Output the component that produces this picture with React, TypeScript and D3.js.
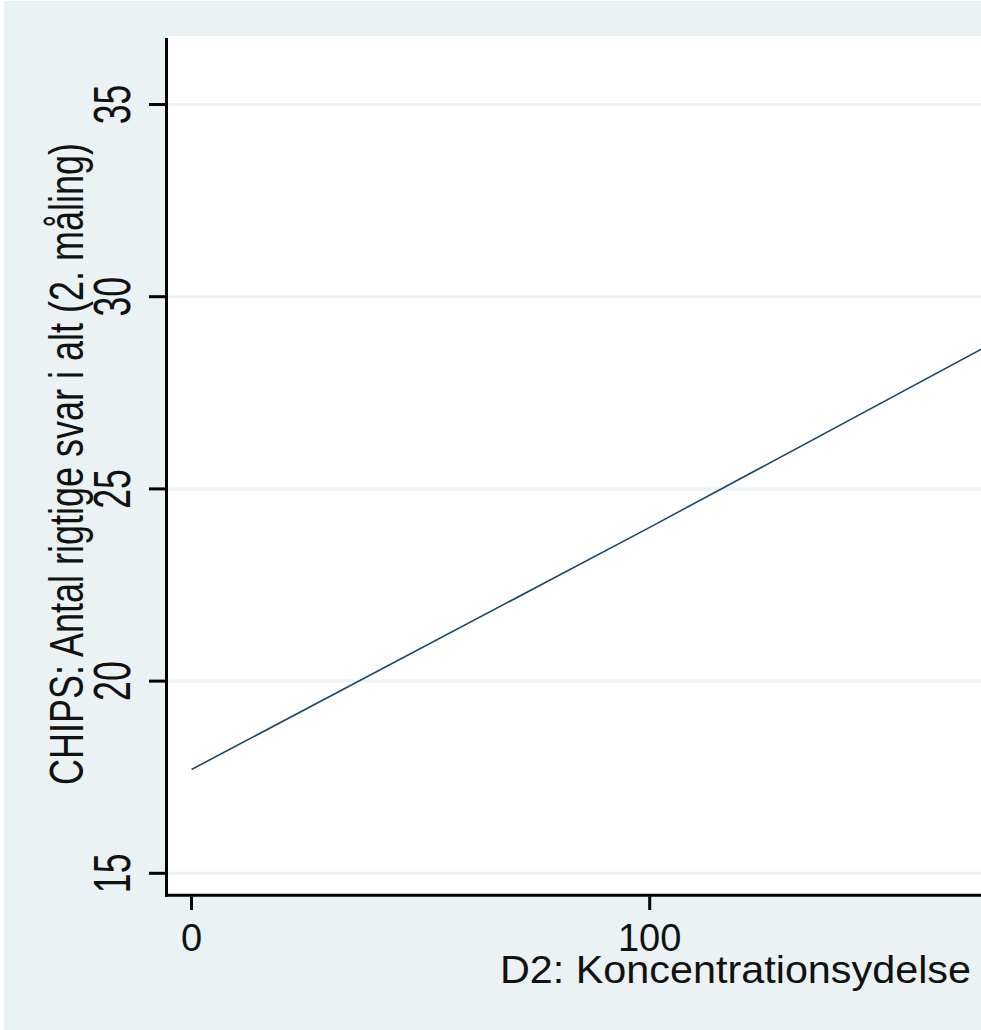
import React from 'react';
import * as d3 from 'd3';

// fitted line
const xValues = [0, 100, 175];
const yValues = [17.7, 24.0, 28.8];
const yTicks = [15, 20, 25, 30, 35];
const xTicks = [0, 100];
const xTitle = 'D2: Koncentrationsydelse';
const yTitle = 'CHIPS: Antal rigtige svar i alt (2. måling)';

const W = 981;
const H = 1030;
const BG = '#eaf2f3';
const FONT = '"Liberation Sans", Arial, sans-serif';

const App: React.FC = () => {
  const plotLeft = 168;
  const plotTop = 36;
  const axisY = 895.3;
  const axisX = 166.5;

  const x = d3.scaleLinear().domain([0, 100]).range([191.5, 649.7]);
  const y = d3.scaleLinear().domain([15, 35]).range([873.3, 104.5]);

  const pts = xValues.map((v, i) => [v, yValues[i]] as [number, number]);
  const line = d3.line<[number, number]>()
    .x(d => x(d[0]))
    .y(d => y(d[1]));

  return (
    <svg
      width={W}
      height={H}
      style={{ position: 'absolute', left: 0, top: 0 }}
      fontFamily={FONT}
    >
      <rect x={0} y={0} width={W} height={H} fill="#fff" />
      <rect x={4} y={1} width={W - 4} height={H - 1} fill={BG} />
      <rect x={plotLeft} y={plotTop} width={W - plotLeft} height={axisY - plotTop} fill="#fff" />

      <defs>
        <clipPath id="plotclip">
          <rect x={plotLeft} y={plotTop} width={W - plotLeft} height={axisY - plotTop - 1.5} />
        </clipPath>
      </defs>

      {/* gridlines */}
      {yTicks.map(t => (
        <line key={'g' + t} x1={plotLeft} x2={W} y1={y(t)} y2={y(t)} stroke={BG} strokeWidth={3} />
      ))}

      {/* fitted line */}
      <path
        d={line(pts) || ''}
        fill="none"
        stroke="#1a476f"
        strokeWidth={1.6}
        clipPath="url(#plotclip)"
      />

      {/* axes */}
      <line x1={axisX} x2={axisX} y1={38} y2={896.8} stroke="#000" strokeWidth={3} />
      <line x1={165} x2={W} y1={axisY} y2={axisY} stroke="#000" strokeWidth={3} />

      {/* y ticks + labels */}
      {yTicks.map(t => (
        <g key={'y' + t}>
          <line x1={149} x2={165} y1={y(t)} y2={y(t)} stroke="#000" strokeWidth={3} />
          <text
            transform={`translate(130,${y(t)}) rotate(-90) scale(0.7,1)`}
            textAnchor="middle"
            fontSize={51}
            fill="#111"
          >
            {t}
          </text>
        </g>
      ))}

      {/* x ticks + labels */}
      {xTicks.map(t => (
        <g key={'x' + t}>
          <line x1={x(t)} x2={x(t)} y1={896.5} y2={910} stroke="#000" strokeWidth={3} />
          <text x={x(t)} y={950.7} textAnchor="middle" fontSize={38} fill="#111">
            {t}
          </text>
        </g>
      ))}

      {/* titles */}
      <text
        x={500}
        y={982.7}
        fontSize={38}
        fill="#111"
        textLength={471}
        lengthAdjust="spacingAndGlyphs"
      >
        {xTitle}
      </text>
      <text
        transform={`translate(83,464) rotate(-90)`}
        textAnchor="middle"
        fontSize={49}
        fill="#111"
        textLength={642}
        lengthAdjust="spacingAndGlyphs"
      >
        {yTitle}
      </text>
    </svg>
  );
};

export default App;
